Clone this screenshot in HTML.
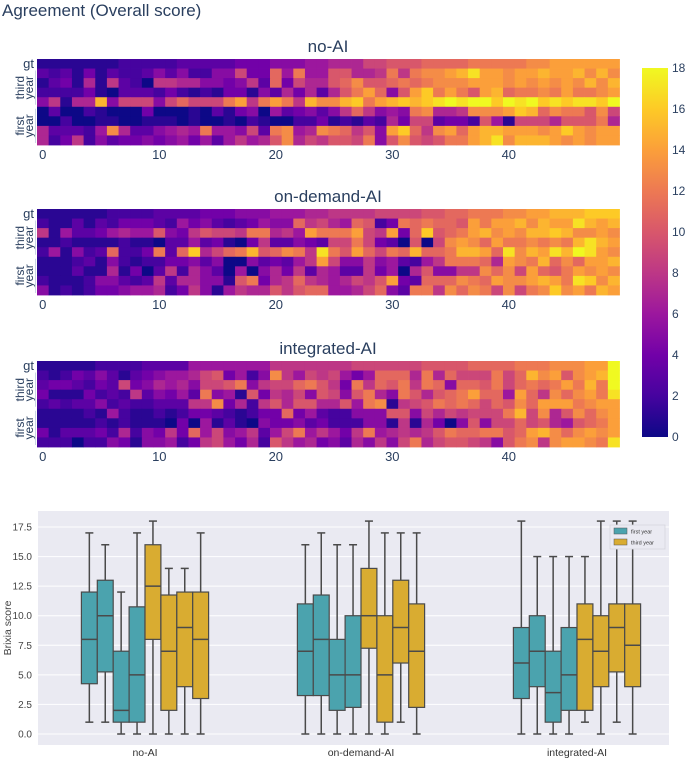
<!DOCTYPE html>
<html><head><meta charset="utf-8"><style>
body{margin:0;background:#fff;width:685px;height:758px;overflow:hidden;font-family:"Liberation Sans",sans-serif}
svg{display:block}
</style></head><body>
<svg id="c" width="685" height="758" xmlns="http://www.w3.org/2000/svg">
<text x="2" y="16" font-size="17" fill="#2a3f5f">Agreement (Overall score)</text>
<g id="heat"></g>
<g id="cbar"></g>
<g id="box"></g>
</svg>
<script>
// ---------- heatmap data (values 0-18 encoded base-19: 0-9,a-i) ----------
const panelNames = ["no-AI","on-demand-AI","integrated-AI"];
const noAIRows = [
"1111111222223333344455566777"+"99aaabbbbcccccddeeeeee",
"32314132235352255944b6c66a"+"a778c8cddefheedeefeefdfd",
"13417183208877554583b4977a"+"bdaabcbcdddeeededededfdf",
"22224103332421214415374737"+"aceb5aegcecaefbccdceccde",
"58177f599959b999ce8cec8fdd"+"fgcefgfghihiigihighghhgi",
"03002100040001031450634535"+"8b8565cd778dddegfbdccad9",
"00200110011101001021002241"+"213274993442a619997aaac7",
"733326d7335676c66593cd67dc"+"b8a5egb8debeffeeedegedee",
"72482534454564636867ad798a"+"a9c5ada9accefhdfffededee"];
const onDemandRows = [
"1111112222333344455566677"+"88889999aabbcccddeefffggg",
"2113132444326453234655b89"+"76ba24cbcbbaeceefdfeehfef",
"8163346766a548a998cc786ec"+"cce98e4bgabcefdedffgfdded",
"1121111211033634104833543"+"99c9430a09dedbeccdcdcfhfe",
"261523b224c3bg79bcfabdc8h"+"caeb9cbfbbcffebhdfehfihed",
"111231521224453500534368e"+"9558563268cccb7edcfbdbeef",
"1113117140382753060574837"+"63384607a5588dbd9ebaceded",
"21112553238377551ac478b87"+"6798ae43bbbdcbeddefechgdf",
"51212445667248516877a8abb"+"6679b53cc8dbdc9d9cdgdecfe"];
const integratedRows = [
"1111122223333666666688888"+"88999999aaaabbbbcccdddeei",
"212435313456679a4625d8698"+"9646bbb7c7b999c9bfdeadefi",
"3443243945767599ac5899bca"+"84c8bac8cb5bbac9bcbcecfci",
"41114232835463c561a48795a"+"95ac75ca7abcebb6eb8dbdech",
"232335232233388d4728a7aa7"+"7a6cd189acbcb9badbeeecdee",
"111121621121244321244b463"+"22555aa59798999cf9d7adbde",
"1111121211104061310544534"+"222551817405a599b9a76abce",
"4133342725484b69568369c68"+"648c67878acbbccabefdbdede",
"22202254155624896472a8674"+"5375859c79aa985acd8deedch"];
const xTicks = [0,10,20,30,40];
const cbTicks = [0,2,4,6,8,10,12,14,16,18];

// ---------- box plot data ----------
const groups = ["no-AI","on-demand-AI","integrated-AI"];
const boxYear = ["first","first","first","first","third","third","third","third"];
const boxLow  = [[1,1,0,0,0,0,0,0],[0,0,0,0,0,0,1,0],[0,0,0,0,1,0,1,0]];
const boxQ1   = [[4.25,5.25,1,1,8,2,4,3],[3.25,3.25,2,2.25,7.25,1,6,2.25],[3,4,1,2,2,4,5.25,4]];
const boxMed  = [[8,10,2,5,12.5,7,9,8],[7,8,5,5,10,5,9,7],[6,7,3.5,5,8,7,9,7.5]];
const boxQ3   = [[12,13,7,10.75,16,11.75,12,12],[11,11.75,8,10,14,10,13,11],[9,10,7,9,11,10,11,11]];
const boxHigh = [[17,16,12,17,18,14,14,17],[16,17,16,16,18,17,17,17],[18,15,15,15,15,18,18,18]];
const yTicksBox = [0,2.5,5,7.5,10,12.5,15,17.5];

const NS="http://www.w3.org/2000/svg";
function mk(tag,attrs,parent){const e=document.createElementNS(NS,tag);for(const k in attrs)e.setAttribute(k,attrs[k]);parent.appendChild(e);return e;}
const plasma=["#0d0887","#46039f","#7201a8","#9c179e","#bd3786","#d8576b","#ed7953","#fb9f3a","#fdca26","#f0f921"];
function hex(h){return [parseInt(h.substr(1,2),16),parseInt(h.substr(3,2),16),parseInt(h.substr(5,2),16)];}
function color(v){let t=Math.max(0,Math.min(1,v/18))*9;let i=Math.min(8,Math.floor(t));let f=t-i;const a=hex(plasma[i]),b=hex(plasma[i+1]);
return "rgb("+a.map((x,k)=>Math.round(x+(b[k]-x)*f)).join(",")+")";}
function decode(s){return s.split("").map(c=>parseInt(c,19));}

const HX0=37, CW=11.65, RH=86/9;
const panelTops=[59,209,361];
const panelData=[noAIRows,onDemandRows,integratedRows];
const heat=document.getElementById("heat");
function xCol(i){return HX0+i*CW;}
panelData.forEach((rows,p)=>{
  const top=panelTops[p];
  const g=mk("g",{},heat);
  
  
  const t=mk("text",{x:328,y:top-7,"font-size":17,"text-anchor":"middle",fill:"#2a3f5f"},g);
  t.textContent=panelNames[p];
  
  
  rows.forEach((r,ri)=>{
    decode(r).forEach((v,ci)=>{
      const rc=mk("rect",{x:xCol(ci).toFixed(2),y:(top+ri*RH).toFixed(2),width:(CW+0.4).toFixed(2),height:(RH+0.4).toFixed(2),fill:color(v)},g);
      
      
    });
  });
  xTicks.forEach(tk=>{
    const tt=mk("text",{x:(xCol(tk)+CW/2).toFixed(1),y:top+100,"font-size":13,"text-anchor":"middle",fill:"#2a3f5f"},g);
    tt.textContent=tk;
    
    
  });
  const gt=mk("text",{x:34,y:top+RH*0.5+4,"font-size":13,"text-anchor":"end",fill:"#2a3f5f"},g);
  gt.textContent="gt";
  
  
  [["third","year",1],["first","year",5]].forEach(l=>{
    const cy=top+RH*(l[2]+2);
    const tx=mk("text",{transform:"translate(24,"+cy+") rotate(-90)","font-size":12,"text-anchor":"middle",fill:"#2a3f5f"},g);
    tx.textContent=l[0];
    
    
    const ty=mk("text",{transform:"translate(33,"+cy+") rotate(-90)","font-size":12,"text-anchor":"middle",fill:"#2a3f5f"},g);
    ty.textContent=l[1];
    
    
    const ln=mk("line",{x1:35.5,x2:35.5,y1:top+RH*l[2]+2,y2:top+RH*(l[2]+4)-2,stroke:"#c8d4e3","stroke-width":1},g);
    
    
  });
});

// colorbar
const cb=document.getElementById("cbar");
const CBT=68, CBB=437, CBX=642, CBW=26;
const defs=mk("defs",{},cb);
const lg=mk("linearGradient",{id:"pl",x1:0,y1:1,x2:0,y2:0},defs);
plasma.forEach((c,i)=>mk("stop",{offset:(i/9),"stop-color":c},lg));
const cbr=mk("rect",{x:CBX,y:CBT,width:CBW,height:CBB-CBT,fill:"url(#pl)"},cb);


function cbY(v){return CBB-(v/18)*(CBB-CBT);}
cbTicks.forEach(v=>{
  const t=mk("text",{x:672,y:cbY(v)+4,"font-size":12,fill:"#2a3f5f"},cb);
  t.textContent=v;
  
  
});

// box plot
const bx=document.getElementById("box");
const PX0=38, PX1=669, PT=511, PB=745;
const bg=mk("rect",{x:PX0,y:PT,width:PX1-PX0,height:PB-PT,fill:"#eaeaf2"},bx);


function yB(v){return 734-v*(207/17.5);}
yTicksBox.forEach(v=>{
  const l=mk("line",{x1:PX0,x2:PX1,y1:yB(v),y2:yB(v),stroke:"#fff","stroke-width":1},bx);
  
  
  const t=mk("text",{x:32,y:yB(v)+3.5,"font-size":10,"text-anchor":"end",fill:"#444"},bx);
  t.textContent=v.toFixed(1);
  
  
});
const yl=mk("text",{transform:"translate(11,628) rotate(-90)","font-size":10.5,"text-anchor":"middle",fill:"#444"},bx);
yl.textContent="Brixia score";


const centers=[145,361,577], BW=15.9;
groups.forEach((gname,gi)=>{
  const t=mk("text",{x:centers[gi],y:756,"font-size":10.5,"text-anchor":"middle",fill:"#333"},bx);
  t.textContent=gname;
  
  
  boxYear.forEach((yr,bi)=>{
    const x0=centers[gi]+(bi-4)*BW, xc=x0+BW/2;
    const g=mk("g",{},bx);
    
    
    const st={stroke:"#4a4a4a","stroke-width":1.5,fill:"none"};
    mk("line",Object.assign({x1:xc,x2:xc,y1:yB(boxLow[gi][bi]),y2:yB(boxQ1[gi][bi])},st),g);
    mk("line",Object.assign({x1:xc,x2:xc,y1:yB(boxQ3[gi][bi]),y2:yB(boxHigh[gi][bi])},st),g);
    mk("line",Object.assign({x1:xc-4,x2:xc+4,y1:yB(boxLow[gi][bi]),y2:yB(boxLow[gi][bi])},st),g);
    mk("line",Object.assign({x1:xc-4,x2:xc+4,y1:yB(boxHigh[gi][bi]),y2:yB(boxHigh[gi][bi])},st),g);
    mk("rect",{x:x0,y:yB(boxQ3[gi][bi]),width:BW,height:yB(boxQ1[gi][bi])-yB(boxQ3[gi][bi]),fill:yr==="first"?"#4ba3ae":"#d9ac31",stroke:"#4a4a4a","stroke-width":1.2},g);
    mk("line",Object.assign({x1:x0,x2:x0+BW,y1:yB(boxMed[gi][bi]),y2:yB(boxMed[gi][bi])},st),g);
  });
});
// legend
const leg=mk("g",{},bx);


mk("rect",{x:610,y:525,width:55,height:24,fill:"#eaeaf2",stroke:"#d5d5dd","stroke-width":0.8},leg);
[["first year","#4ba3ae"],["third year","#d9ac31"]].forEach((e,i)=>{
  const r=mk("rect",{x:614,y:528+i*11,width:13,height:6,fill:e[1],stroke:"#555","stroke-width":0.5},leg);
  
  
  const t=mk("text",{x:631,y:533.5+i*11,"font-size":5.5,fill:"#333"},leg);
  t.textContent=e[0];
  
  
});
</script>
</body></html>
